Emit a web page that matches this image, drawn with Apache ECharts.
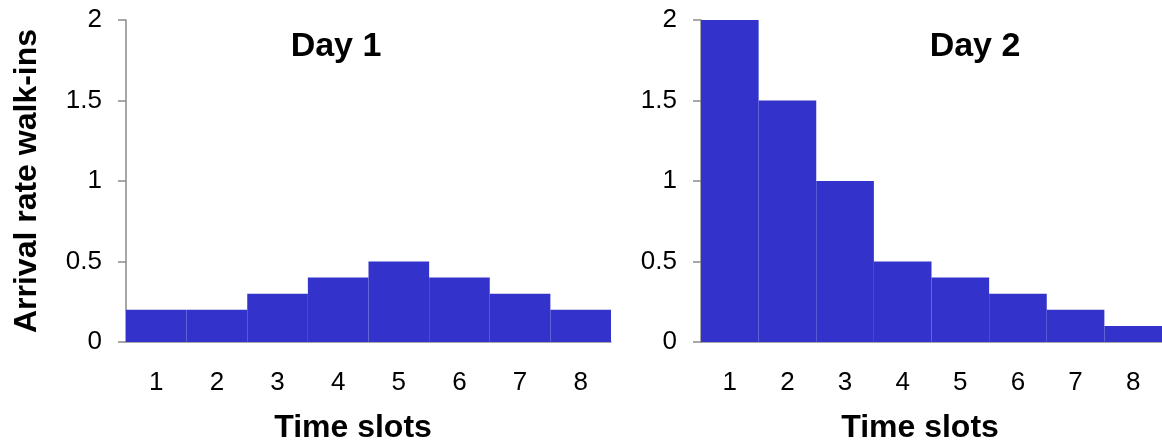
<!DOCTYPE html>
<html>
<head>
<meta charset="utf-8">
<script src="https://cdn.jsdelivr.net/npm/echarts@6/dist/echarts.min.js"></script>
<style>
  html, body { margin: 0; padding: 0; background: #fff; }
  #chart { width: 1162px; height: 446px; }
</style>
</head>
<body>
<div id="chart"></div>
<script>
// Walk-in arrival rate per time slot, two days side by side
const timeSlots = ['1', '2', '3', '4', '5', '6', '7', '8'];
const day1Rates = [0.2, 0.2, 0.3, 0.4, 0.5, 0.4, 0.3, 0.2];
const day2Rates = [2, 1.5, 1, 0.5, 0.4, 0.3, 0.2, 0.1];
const panelTitles = ['Day 1', 'Day 2'];
const yAxisTitle = 'Arrival rate walk-ins';
const xAxisTitle = 'Time slots';

const FONT = '"Liberation Sans", Arial, Helvetica, sans-serif';
const AXIS_GREY = '#8a8a8a';
const BAR_BLUE = '#3333CC';

function xAxisFor(gridIndex) {
  return {
    type: 'category',
    gridIndex,
    data: timeSlots,
    boundaryGap: true,
    axisLine: { show: true, lineStyle: { color: AXIS_GREY, width: 1.5 } },
    axisTick: { show: false },
    axisLabel: { color: '#000', fontFamily: FONT, fontSize: 26, margin: 28 },
    splitLine: { show: false }
  };
}

function yAxisFor(gridIndex) {
  return {
    type: 'value',
    gridIndex,
    min: 0,
    max: 2,
    interval: 0.5,
    axisLine: { show: true, lineStyle: { color: AXIS_GREY, width: 1.5 } },
    axisTick: { show: true, length: 8, lineStyle: { color: AXIS_GREY, width: 1.5 } },
    axisLabel: { color: '#000', fontFamily: FONT, fontSize: 26, margin: 24 },
    splitLine: { show: false }
  };
}

function barsFor(index, values) {
  return {
    type: 'bar',
    xAxisIndex: index,
    yAxisIndex: index,
    data: values,
    barCategoryGap: '0%',
    itemStyle: { color: BAR_BLUE },
    animation: false
  };
}

function boldText(text, x, y, size, rotation) {
  return {
    type: 'text',
    x, y,
    rotation: rotation || 0,
    style: {
      text,
      fill: '#000',
      font: 'bold ' + size + 'px ' + FONT,
      textAlign: 'center',
      textVerticalAlign: 'middle'
    }
  };
}

const chart = echarts.init(document.getElementById('chart'), null, { renderer: 'canvas' });
chart.setOption({
  backgroundColor: '#fff',
  animation: false,
  grid: [
    { left: 126, top: 20, width: 485, height: 322 },
    { left: 701, top: 20, width: 466, height: 322 }
  ],
  xAxis: [xAxisFor(0), xAxisFor(1)],
  yAxis: [yAxisFor(0), yAxisFor(1)],
  series: [barsFor(0, day1Rates), barsFor(1, day2Rates)],
  graphic: [
    boldText(panelTitles[0], 336, 47, 34),
    boldText(panelTitles[1], 975, 47, 34),
    boldText(yAxisTitle, 27, 181, 32, Math.PI / 2),
    boldText(xAxisTitle, 353, 428, 32),
    boldText(xAxisTitle, 920, 428, 32)
  ]
});
</script>
</body>
</html>
